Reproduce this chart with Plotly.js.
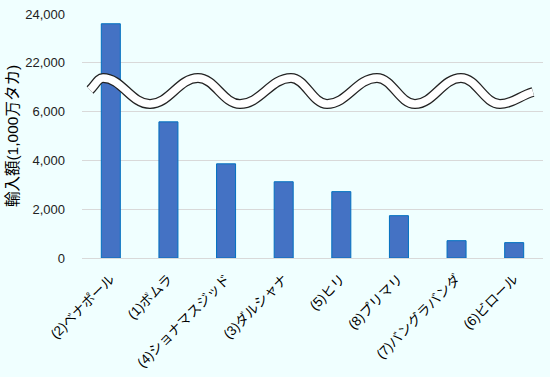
<!DOCTYPE html>
<html>
<head>
<meta charset="utf-8">
<script src="https://cdn.plot.ly/plotly-3.0.1.min.js"></script>
<style>html,body{margin:0;padding:0;background:#F0FFFF;}#chart{width:550px;height:377px;}</style>
</head>
<body>
<div id="chart"></div>
<script>
// Data
const categories = ["(2)ベナポール", "(1)ボムラ", "(4)ショナマスジッド", "(3)ダルシャナ", "(5)ヒリ", "(8)プリマリ", "(7)バングラバンダ", "(6)ビロール"];
const values = [23600, 5580, 3860, 3125, 2720, 1735, 710, 630];
// Broken axis: values above the break are shifted down by this offset
const breakOffset = 14000;
const breakAt = 7000;
const tickVals = [0, 2000, 4000, 6000, 8000, 10000];
const tickText = ["0", "2,000", "4,000", "6,000", "22,000", "24,000"];

const shown = values.map(v => v > breakAt ? v - breakOffset : v);

// Wave (axis break symbol) in pixel positions, converted to paper coords
const plotL = 82, plotR = 543, plotT = 14, plotB = 258;
const wavePts = [[90,90],[103,78],[150,104],[198,78],[240,104],[291,78],[327,104],[377,78],[415,104],[461,78],[500,104],[533,92]];
function px(x){return ((x - plotL)/(plotR - plotL)).toFixed(4);}
function py(y){return ((plotB - y)/(plotB - plotT)).toFixed(4);}
let path = "M" + px(wavePts[0][0]) + "," + py(wavePts[0][1]);
for (let i = 1; i < wavePts.length; i++) {
  const [x0,y0] = wavePts[i-1], [x1,y1] = wavePts[i];
  const dx = x1 - x0;
  const c1x = x0 + dx*0.4, c1y = (i === 1) ? y0 + (y1-y0)*0.4 : y0;
  const c2x = x1 - dx*0.4, c2y = (i === wavePts.length-1) ? y1 - (y1-y0)*0.3 : y1;
  path += " C" + px(c1x) + "," + py(c1y) + " " + px(c2x) + "," + py(c2y) + " " + px(x1) + "," + py(y1);
}

const fontFam = '"Liberation Sans", Arial, "Noto Sans CJK JP", sans-serif';
const jpFam = '"Liberation Sans", Arial, "Noto Sans CJK JP", sans-serif';

const trace = {
  type: 'bar',
  x: categories,
  y: shown,
  customdata: values,
  hovertemplate: '%{x}: %{customdata:,}<extra></extra>',
  marker: {color: '#4472C4', line: {color: '#0070C0', width: 1}}
};

const layout = {
  width: 550, height: 377,
  paper_bgcolor: '#F0FFFF',
  plot_bgcolor: '#F0FFFF',
  margin: {l: plotL, r: 550 - plotR, t: plotT, b: 377 - plotB},
  bargap: 0.67,
  showlegend: false,
  xaxis: {
    tickangle: -45,
    tickfont: {family: jpFam, size: 13.5, color: '#000'},
    showgrid: false,
    showline: true,
    linecolor: '#D9D9D9',
    linewidth: 1,
    ticks: '',
    ticklabelstandoff: 7
  },
  yaxis: {
    range: [0, 10000],
    tickvals: tickVals,
    ticktext: tickText,
    tickfont: {family: fontFam, size: 13, color: '#222'},
    gridcolor: '#D9D9D9',
    gridwidth: 1,
    zeroline: false,
    showline: false,
    ticks: '',
    ticklabelstandoff: 16,
    title: {text: '輸入額(1,000万タカ)', font: {family: jpFam, size: 15.5, color: '#000'}, standoff: 2}
  },
  shapes: [
    {type: 'path', xref: 'paper', yref: 'paper', path: path, line: {color: '#222', width: 10}, layer: 'above'},
    {type: 'path', xref: 'paper', yref: 'paper', path: path, line: {color: '#FFFFFF', width: 7.5}, layer: 'above'}
  ]
};

Plotly.newPlot('chart', [trace], layout, {displayModeBar: false, staticPlot: true});
</script>
</body>
</html>
